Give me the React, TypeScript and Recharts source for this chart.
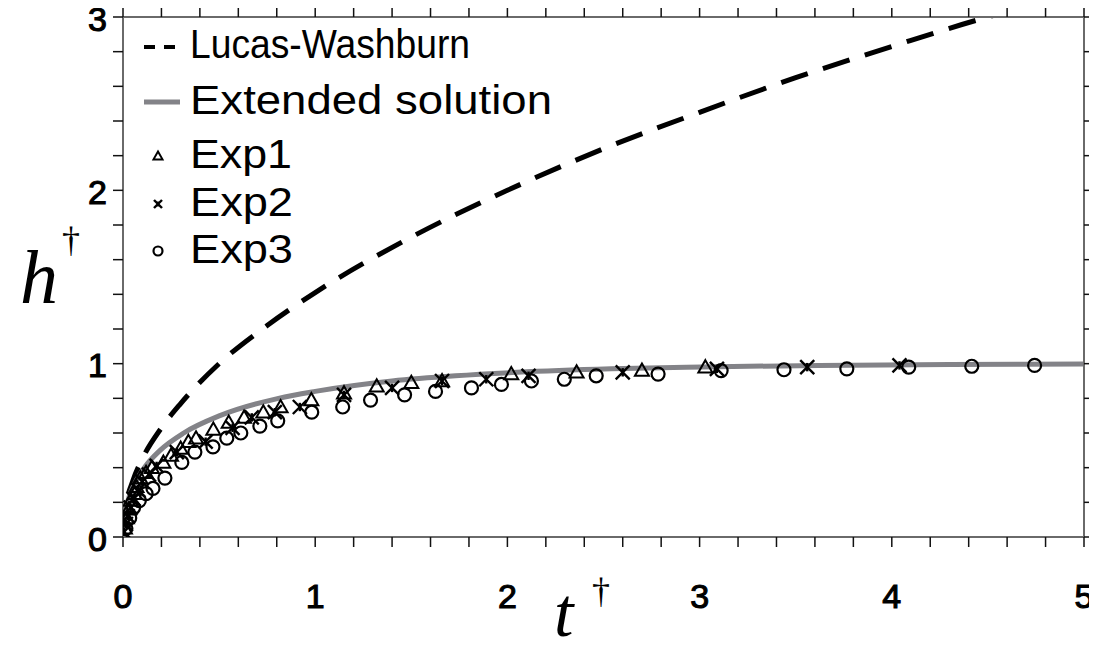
import React from "react";
import { ComposedChart, Line, Scatter, XAxis, YAxis } from "recharts";

// curves (t†, h†)
const lucasWashburn = [
  { t: 0, h: 0 },
  { t: 0.02, h: 0.2 },
  { t: 0.05, h: 0.32 },
  { t: 0.1, h: 0.45 },
  { t: 0.2, h: 0.63 },
  { t: 0.3, h: 0.77 },
  { t: 0.5, h: 1.0 },
  { t: 0.75, h: 1.22 },
  { t: 1, h: 1.41 },
  { t: 1.5, h: 1.73 },
  { t: 2, h: 2.0 },
  { t: 2.5, h: 2.24 },
  { t: 3, h: 2.45 },
  { t: 3.5, h: 2.65 },
  { t: 4, h: 2.83 },
  { t: 4.5, h: 3.0 },
  { t: 4.6, h: 3.03 },
];

const extendedSolution = [
  { t: 0, h: 0 },
  { t: 0.005, h: 0.1 },
  { t: 0.023, h: 0.2 },
  { t: 0.057, h: 0.3 },
  { t: 0.111, h: 0.4 },
  { t: 0.193, h: 0.5 },
  { t: 0.316, h: 0.6 },
  { t: 0.504, h: 0.7 },
  { t: 0.809, h: 0.8 },
  { t: 1.0, h: 0.84 },
  { t: 1.4, h: 0.9 },
  { t: 1.73, h: 0.93 },
  { t: 2.05, h: 0.95 },
  { t: 2.54, h: 0.97 },
  { t: 2.93, h: 0.98 },
  { t: 3.62, h: 0.99 },
  { t: 4.3, h: 0.995 },
  { t: 5.0, h: 0.998 },
];

const exp1 = [
  { t: 0, h: 0 }, { t: 0.01, h: 0.05 }, { t: 0.02, h: 0.11 }, { t: 0.03, h: 0.16 },
  { t: 0.04, h: 0.21 }, { t: 0.06, h: 0.25 }, { t: 0.07, h: 0.29 }, { t: 0.09, h: 0.34 },
  { t: 0.12, h: 0.37 }, { t: 0.15, h: 0.4 }, { t: 0.21, h: 0.43 }, { t: 0.25, h: 0.47 },
  { t: 0.3, h: 0.51 }, { t: 0.34, h: 0.55 }, { t: 0.38, h: 0.57 }, { t: 0.47, h: 0.62 },
  { t: 0.55, h: 0.66 }, { t: 0.63, h: 0.69 }, { t: 0.73, h: 0.72 }, { t: 0.82, h: 0.75 },
  { t: 0.98, h: 0.79 }, { t: 1.15, h: 0.83 }, { t: 1.32, h: 0.87 }, { t: 1.5, h: 0.89 },
  { t: 1.66, h: 0.9 }, { t: 2.02, h: 0.94 }, { t: 2.36, h: 0.95 }, { t: 2.7, h: 0.96 },
  { t: 3.03, h: 0.98 },
];

const exp2 = [
  { t: 0.005, h: 0.03 }, { t: 0.015, h: 0.075 }, { t: 0.025, h: 0.12 }, { t: 0.04, h: 0.17 },
  { t: 0.055, h: 0.22 }, { t: 0.08, h: 0.27 }, { t: 0.1, h: 0.32 }, { t: 0.135, h: 0.36 },
  { t: 0.175, h: 0.41 }, { t: 0.28, h: 0.49 }, { t: 0.43, h: 0.55 }, { t: 0.57, h: 0.63 },
  { t: 0.67, h: 0.69 }, { t: 0.79, h: 0.72 }, { t: 0.92, h: 0.75 }, { t: 1.15, h: 0.82 },
  { t: 1.4, h: 0.86 }, { t: 1.66, h: 0.9 }, { t: 1.89, h: 0.91 }, { t: 2.11, h: 0.93 },
  { t: 2.6, h: 0.95 }, { t: 3.09, h: 0.97 }, { t: 3.56, h: 0.98 }, { t: 4.04, h: 0.99 },
];

const exp3 = [
  { t: 0.015, h: 0.05 }, { t: 0.035, h: 0.11 }, { t: 0.055, h: 0.17 }, { t: 0.085, h: 0.21 },
  { t: 0.12, h: 0.25 }, { t: 0.156, h: 0.28 }, { t: 0.218, h: 0.34 }, { t: 0.306, h: 0.43 },
  { t: 0.374, h: 0.49 }, { t: 0.468, h: 0.52 }, { t: 0.54, h: 0.57 }, { t: 0.613, h: 0.6 },
  { t: 0.712, h: 0.64 }, { t: 0.805, h: 0.67 }, { t: 0.982, h: 0.72 }, { t: 1.143, h: 0.75 },
  { t: 1.288, h: 0.79 }, { t: 1.465, h: 0.82 }, { t: 1.626, h: 0.84 }, { t: 1.813, h: 0.86 },
  { t: 1.969, h: 0.88 }, { t: 2.125, h: 0.9 }, { t: 2.296, h: 0.91 }, { t: 2.462, h: 0.93 },
  { t: 2.784, h: 0.94 }, { t: 3.112, h: 0.96 }, { t: 3.439, h: 0.965 }, { t: 3.766, h: 0.97 },
  { t: 4.088, h: 0.98 }, { t: 4.416, h: 0.985 }, { t: 4.743, h: 0.99 },
];

const xTicks = [
  0, 0.2, 0.4, 0.6, 0.8, 1, 1.2, 1.4, 1.6, 1.8, 2, 2.2, 2.4, 2.6, 2.8, 3,
  3.2, 3.4, 3.6, 3.8, 4, 4.2, 4.4, 4.6, 4.8, 5,
];
const yTicks = [0, 0.2, 0.4, 0.6, 0.8, 1, 1.2, 1.4, 1.6, 1.8, 2, 2.2, 2.4, 2.6, 2.8, 3];

const legendLabels = ["Lucas-Washburn", "Extended solution", "Exp1", "Exp2", "Exp3"];
const legendWidths = [280, 362, 102, 103, 103];

// the page is drawn edge to edge (body margin cancelled on all sides)
const W = 1097;
const H = 653;
const SANS = '"Liberation Sans", Arial, Helvetica, sans-serif';
const SERIF = '"Liberation Serif", "Times New Roman", serif';
const FRAME = "#6a6a6a";
const GRAY = "#838388";

const isMajor = (v: number) => Math.abs(v - Math.round(v)) < 1e-6;

const Triangle = ({ cx, cy, s = 7 }: any) => (
  <path
    d={`M${cx},${cy - s} L${cx + s},${cy + s * 0.75} L${cx - s},${cy + s * 0.75} Z`}
    fill="none"
    stroke="#000"
    strokeWidth={2}
  />
);

const Cross = ({ cx, cy, s = 7 }: any) => (
  <g stroke="#000" strokeWidth={2.4}>
    <line x1={cx - s} y1={cy - s} x2={cx + s} y2={cy + s} />
    <line x1={cx - s} y1={cy + s} x2={cx + s} y2={cy - s} />
    <line x1={cx} y1={cy - s * 0.6} x2={cx} y2={cy + s * 0.6} />
  </g>
);

const Circle = ({ cx, cy, r = 6.5 }: any) => (
  <circle cx={cx} cy={cy} r={r} fill="none" stroke="#000" strokeWidth={2.2} />
);

const tickText = {
  fontSize: 34,
  fontFamily: SANS,
  fill: "#000",
  stroke: "#000",
  strokeWidth: 1.1,
};

const XTick = ({ x, y, payload }: any) =>
  isMajor(payload.value) ? (
    <text x={x} y={y + 47} textAnchor="middle" dominantBaseline="central" {...tickText}>
      {Math.round(payload.value)}
    </text>
  ) : (
    <g />
  );

const YTick = ({ x, y, payload }: any) =>
  isMajor(payload.value) ? (
    <text x={x - 4} y={y + 1.5} textAnchor="end" dominantBaseline="central" {...tickText}>
      {Math.round(payload.value)}
    </text>
  ) : (
    <g />
  );

const NoTick = () => <g />;

export default function App() {
  const rowY = [58, 114, 168, 216, 263];
  return (
    <div
      style={{
        position: "relative",
        width: W,
        height: H,
        margin: "-8px 0 -8px -8px",
        background: "#fff",
        overflow: "hidden",
      }}
    >
      <ComposedChart width={W} height={H} margin={{ top: 0, right: 0, bottom: 56, left: 63 }}>
        <XAxis
          xAxisId="b"
          dataKey="t"
          type="number"
          domain={[0, 5]}
          ticks={xTicks}
          interval={0}
          height={60}
          tickSize={10}
          tick={<XTick />}
          axisLine={{ stroke: FRAME, strokeWidth: 2 }}
          tickLine={{ stroke: "#111", strokeWidth: 1.5 }}
          allowDataOverflow
        />
        <XAxis
          xAxisId="top"
          orientation="top"
          dataKey="t"
          type="number"
          domain={[0, 5]}
          ticks={xTicks}
          interval={0}
          height={17}
          tickSize={10}
          tick={<NoTick />}
          axisLine={{ stroke: FRAME, strokeWidth: 2 }}
          tickLine={{ stroke: "#111", strokeWidth: 1.5 }}
          allowDataOverflow
        />
        <YAxis
          yAxisId="l"
          dataKey="h"
          type="number"
          domain={[0, 3]}
          ticks={yTicks}
          interval={0}
          width={60}
          tickSize={10}
          tick={<YTick />}
          axisLine={{ stroke: FRAME, strokeWidth: 2 }}
          tickLine={{ stroke: "#111", strokeWidth: 1.5 }}
          allowDataOverflow
        />
        <YAxis
          yAxisId="r"
          orientation="right"
          dataKey="h"
          type="number"
          domain={[0, 3]}
          ticks={yTicks}
          interval={0}
          width={13}
          tickSize={10}
          tick={<NoTick />}
          axisLine={{ stroke: FRAME, strokeWidth: 2 }}
          tickLine={{ stroke: "#111", strokeWidth: 1.5 }}
          allowDataOverflow
        />
        <Line
          xAxisId="b"
          yAxisId="l"
          data={lucasWashburn}
          dataKey="h"
          type="monotone"
          stroke="#000"
          strokeWidth={5}
          strokeDasharray="28 16"
          dot={false}
          isAnimationActive={false}
        />
        <Line
          xAxisId="b"
          yAxisId="l"
          data={extendedSolution}
          dataKey="h"
          type="monotone"
          stroke={GRAY}
          strokeWidth={5}
          dot={false}
          isAnimationActive={false}
        />
        <Scatter xAxisId="b" yAxisId="l" data={exp1} dataKey="h" shape={(p: any) => <Triangle cx={p.cx} cy={p.cy} />} isAnimationActive={false} />
        <Scatter xAxisId="b" yAxisId="l" data={exp2} dataKey="h" shape={(p: any) => <Cross cx={p.cx} cy={p.cy} />} isAnimationActive={false} />
        <Scatter xAxisId="b" yAxisId="l" data={exp3} dataKey="h" shape={(p: any) => <Circle cx={p.cx} cy={p.cy} />} isAnimationActive={false} />
      </ComposedChart>

      <svg width={W} height={H} style={{ position: "absolute", left: 0, top: 0, pointerEvents: "none" }}>
        {/* legend */}
        <line x1={144} y1={rowY[0] - 11} x2={180} y2={rowY[0] - 11} stroke="#000" strokeWidth={4} strokeDasharray="11 9" />
        <line x1={144} y1={rowY[1] - 12} x2={180} y2={rowY[1] - 12} stroke={GRAY} strokeWidth={5} />
        <Triangle cx={158} cy={rowY[2] - 12} s={4.5} />
        <Cross cx={158} cy={rowY[3] - 12} s={4} />
        <Circle cx={158} cy={rowY[4] - 12} r={4.5} />
        {legendLabels.map((label, i) => (
          <text
            key={label}
            x={190}
            y={rowY[i]}
            fontSize={41}
            fontFamily={SANS}
            fill="#000"
            textLength={legendWidths[i]}
            lengthAdjust="spacingAndGlyphs"
          >
            {label}
          </text>
        ))}
        {/* axis titles */}
        <text x={20} y={303} fontSize={76} fontStyle="italic" fontFamily={SERIF} fill="#000">h</text>
        <text x={62} y={252} fontSize={36} fontFamily={SERIF} fill="#000">†</text>
        <text x={554} y={636} fontSize={70} fontStyle="italic" fontFamily={SERIF} fill="#000">t</text>
        <text x={592} y={603} fontSize={36} fontFamily={SERIF} fill="#000">†</text>
      </svg>
    </div>
  );
}
